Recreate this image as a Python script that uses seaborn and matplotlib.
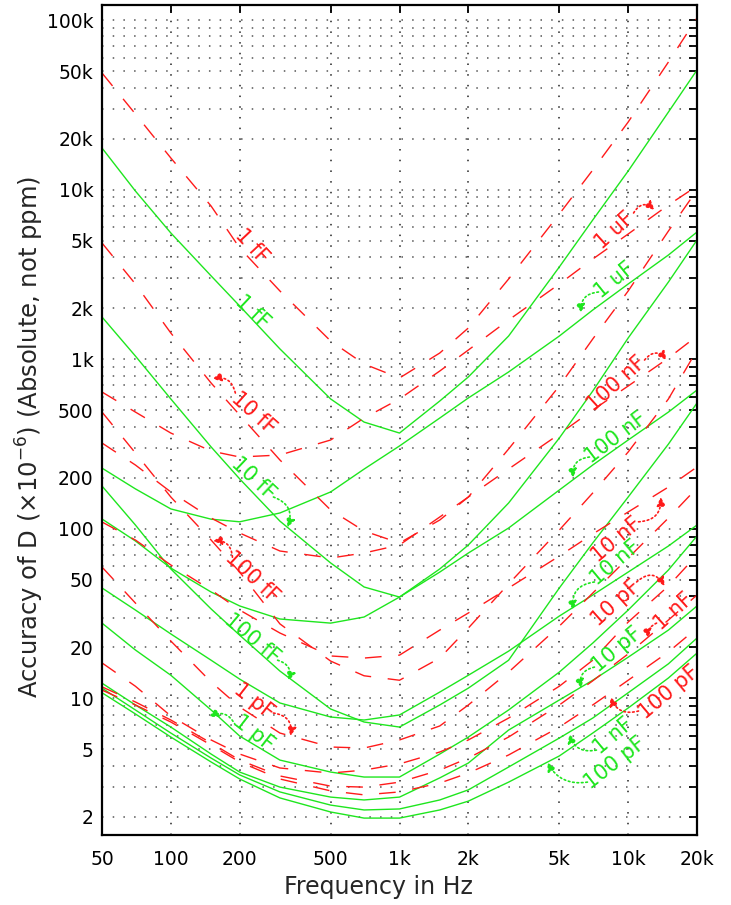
import matplotlib
matplotlib.use("Agg")
import matplotlib.pyplot as plt
import seaborn as sns
import pandas as pd
from matplotlib.ticker import FixedLocator, FixedFormatter, NullFormatter, NullLocator

# ---------------- data ----------------
freq_hz = [50, 70, 100, 150, 200, 300, 500, 700, 1000, 1500, 2000, 3000,
           5000, 7000, 10000, 15000, 20000]

# green (solid) curves
g_1fF = [17590, 9810, 5550, 3100, 2060, 1150, 583, 426, 367, 567, 786, 1370, 3500, 6620, 12870, 28670, 50730]
g_10fF = [1774, 1044, 583, 304, 197, 111, 62.9, 45.4, 39.6, 58.0, 80.3, 142, 343, 649, 1334, 2853, 5045]
g_100fF = [178.8, 105.3, 58.0, 33.7, 23.6, 14.5, 8.66, 7.26, 6.78, 9.15, 11.5, 16.8, 44.8, 82.5, 154, 316, 552]
g_1pF = [27.8, 19.3, 13.7, 8.55, 6.00, 4.33, 3.68, 3.44, 3.44, 4.70, 5.92, 8.55, 14.3, 21.2, 33.2, 57.2, 90.7]
g_10pF = [12.3, 9.15, 6.78, 4.70, 3.68, 3.00, 2.62, 2.52, 2.62, 3.40, 4.16, 6.51, 9.79, 12.8, 17.5, 25.3, 35.1]
g_100pF = [10.8, 8.10, 5.92, 4.22, 3.35, 2.59, 2.14, 1.97, 1.97, 2.20, 2.48, 3.21, 4.58, 6.25, 8.78, 13.2, 18.5]
g_1nF = [11.5, 8.55, 6.25, 4.45, 3.54, 2.81, 2.35, 2.20, 2.23, 2.52, 2.89, 3.94, 5.84, 7.66, 10.8, 16.0, 22.7]
g_10nF = [44.8, 33.2, 24.0, 16.8, 13.0, 9.40, 7.77, 7.46, 7.99, 10.9, 13.7, 19.0, 30.6, 40.7, 55.6, 79.2, 105.3]
g_100nF = [114.3, 84.8, 58.7, 42.4, 35.1, 29.4, 27.8, 30.2, 39.6, 55.6, 72.0, 101.1, 169.4, 237.8, 334, 488, 658]
g_1uF = [228, 172, 131, 114, 110, 124, 165, 225, 308, 450, 591, 841, 1370, 1950, 2776, 4116, 5623]

# red (dashed) curves
r_1fF = [48690, 27910, 15360, 8000, 4530, 2525, 1280, 937, 775, 1088, 1528, 2971, 7180, 13050, 25030, 56540, 102760]
r_10fF = [4844, 2776, 1427, 724, 469, 254.5, 129.1, 97.1, 82.5, 112.7, 154, 295.5, 695, 1316, 2525, 5700, 9947]
r_100fF = [488, 280, 154, 85.9, 55.6, 27.5, 16.6, 13.6, 12.8, 17.3, 26.0, 47.3, 98.4, 162.7, 283.8, 583, 1133]
r_1pF = [59.5, 36.5, 21.8, 12.5, 8.90, 6.25, 5.17, 5.10, 5.69, 6.88, 9.15, 14.3, 26.7, 41.8, 67.3, 115.8, 174.1]
r_10pF = [16.2, 11.8, 7.88, 5.69, 4.70, 3.89, 3.63, 3.78, 4.11, 4.83, 5.69, 7.66, 11.8, 16.8, 28.2, 46.0, 70.1]
r_100pF = [11.2, 9.15, 7.26, 5.31, 4.22, 3.35, 2.85, 2.70, 2.81, 3.17, 3.63, 4.64, 6.78, 9.15, 12.8, 18.8, 26.0]
r_1nF = [11.7, 9.53, 7.46, 5.46, 4.33, 3.49, 3.04, 3.00, 3.21, 3.78, 4.45, 5.92, 9.15, 12.7, 18.3, 29.0, 40.7]
r_10nF = [109.7, 85.9, 61.2, 43.6, 33.2, 24.3, 17.8, 17.3, 18.0, 25.3, 31.9, 44.8, 69.1, 93.2, 125.7, 176.4, 231.5]
r_100nF = [320.6, 237.8, 164.9, 115.8, 94.5, 74.0, 67.3, 72.0, 80.3, 117.4, 154, 225.3, 362.2, 501.8, 695, 1016, 1370]
r_1uF = [640.6, 488, 367, 287.6, 265.1, 272.4, 334, 450, 583, 852, 1133, 1703, 2776, 3897, 5473, 8114, 10500]

x_tick_vals = [50, 100, 200, 500, 1000, 2000, 5000, 10000, 20000]
x_tick_labels = ["50", "100", "200", "500", "1k", "2k", "5k", "10k", "20k"]
y_tick_vals = [2, 5, 10, 20, 50, 100, 200, 500, 1000, 2000, 5000, 10000, 20000, 50000, 100000]
y_tick_labels = ["2", "5", "10", "20", "50", "100", "200", "500", "1k", "2k", "5k",
                 "10k", "20k", "50k", "100k"]

green_curves = {"g 1 fF": g_1fF, "g 10 fF": g_10fF, "g 100 fF": g_100fF, "g 1 pF": g_1pF,
                "g 10 pF": g_10pF, "g 100 pF": g_100pF, "g 1 nF": g_1nF, "g 10 nF": g_10nF,
                "g 100 nF": g_100nF, "g 1 uF": g_1uF}
red_curves = {"r 1 fF": r_1fF, "r 10 fF": r_10fF, "r 100 fF": r_100fF, "r 1 pF": r_1pF,
              "r 10 pF": r_10pF, "r 100 pF": r_100pF, "r 1 nF": r_1nF, "r 10 nF": r_10nF,
              "r 100 nF": r_100nF, "r 1 uF": r_1uF}

GREEN = "#1ee61e"
RED = "#ff1a1a"

rows = []
for name, vals in green_curves.items():
    for f, v in zip(freq_hz, vals):
        rows.append({"freq": f, "acc": v, "curve": name, "kind": "solid"})
for name, vals in red_curves.items():
    for f, v in zip(freq_hz, vals):
        rows.append({"freq": f, "acc": v, "curve": name, "kind": "dashed"})
df = pd.DataFrame(rows)
palette = {n: GREEN for n in green_curves}
palette.update({n: RED for n in red_curves})

# ---------------- figure ----------------
sns.set_style("white")
plt.rcParams["font.family"] = ["DejaVu Sans"]

fig = plt.figure(figsize=(7.31, 9.05), dpi=100)
ax = fig.add_axes([102 / 731, 70 / 905, 595 / 731, 830 / 905])
ax.set_xscale("log")
ax.set_yscale("log")

sns.lineplot(data=df, x="freq", y="acc", hue="curve", style="kind", palette=palette,
             dashes={"solid": "", "dashed": (12, 12)}, estimator=None, legend=False,
             linewidth=1.0, ax=ax)

ax.set_xlim(50, 20000)
ax.set_ylim(1.566, 122600)

ax.xaxis.set_major_locator(FixedLocator(x_tick_vals))
ax.xaxis.set_major_formatter(FixedFormatter(x_tick_labels))
ax.xaxis.set_minor_locator(NullLocator())
y_minor = [m * 10 ** k for k in range(0, 6) for m in range(1, 10)
           if 1.566 < m * 10 ** k < 122600 and m * 10 ** k not in y_tick_vals]
ax.yaxis.set_major_locator(FixedLocator(y_tick_vals))
ax.yaxis.set_major_formatter(FixedFormatter(y_tick_labels))
ax.yaxis.set_minor_locator(FixedLocator(y_minor))
ax.yaxis.set_minor_formatter(NullFormatter())

ax.set_axisbelow(True)
ax.grid(True, which="both", axis="y", color="#555555", lw=1.1, ls=(0, (1, 6)))
ax.grid(True, which="major", axis="x", color="#222222", lw=1.1, ls=(0, (1, 6)))

ax.tick_params(which="both", direction="in", top=True, right=True, length=6, width=1.3,
               labelsize=13.5, colors="black")
ax.tick_params(axis="y", pad=6)
ax.tick_params(axis="x", pad=11)
for s in ax.spines.values():
    s.set_linewidth(1.6)
    s.set_color("black")
ax.set_xlabel("")
ax.set_ylabel("")

fig.text(378 / 731, (905 - 887) / 905, "Frequency in Hz", ha="center", va="center", fontsize=17)
fig.text(30 / 731, (905 - 437) / 905, r"Accuracy of D ($\times$10$^{-6}$) (Absolute, not ppm)",
         ha="center", va="center", rotation=90, fontsize=17.5)

# ---------------- curve labels ----------------
LFS = 15
labels = [
    ("1 fF", GREEN, 227, 1897, -43), ("1 fF", RED, 227, 4650, -47),
    ("10 fF", RED, 230, 482, -42), ("10 fF", GREEN, 230, 199, -43),
    ("100 fF", RED, 227, 52, -43), ("100 fF", GREEN, 227, 22.7, -40),
    ("1 pF", RED, 230, 9.66, -38), ("1 pF", GREEN, 230, 6.25, -38),
    ("1 uF", RED, 8716, 5780, 42), ("1 uF", GREEN, 8716, 2930, 39),
    ("100 nF", RED, 8891, 714, 42), ("100 nF", GREEN, 8803, 343, 37),
    ("10 nF", RED, 8891, 85.9, 40), ("10 nF", GREEN, 8803, 62.9, 40),
    ("10 pF", RED, 8803, 36.5, 42), ("10 pF", GREEN, 8891, 19.3, 40),
    ("1 nF", RED, 15810, 32.7, 42), ("1 nF", GREEN, 8627, 6.0, 40),
    ("100 pF", RED, 15040, 10.9, 40), ("100 pF", GREEN, 8803, 4.16, 38),
]
for txt, col, fx, fy, rot in labels:
    ax.text(fx, fy, txt, color=col, fontsize=LFS, rotation=rot, ha="center", va="center",
            rotation_mode="anchor")

arrows = [
    (RED, (191.5, 632), (152, 764), 0.5), (GREEN, (281, 154), (324, 102), -0.5),
    (RED, (186, 68), (153, 84.7), 0.5), (GREEN, (293, 16.8), (327, 12.7), -0.5),
    (RED, (281, 8.2), (334, 6.0), -0.5), (GREEN, (191.5, 6.97), (147, 7.77), 0.5),
    (RED, (10560, 7280), (13050, 7590), -0.6), (GREEN, (7415, 2490), (6245, 1873), 0.5),
    (RED, (11793, 989), (14730, 989), -0.6), (GREEN, (6770, 265), (5760, 200), 0.5),
    (RED, (11100, 110), (13870, 154), 0.5), (GREEN, (7120, 48.6), (5760, 33.2), 0.5),
    (RED, (10890, 48.6), (14440, 46.0), -0.6), (GREEN, (7120, 15.3), (6245, 11.5), 0.5),
    (RED, (13310, 27.8), (12290, 22.7), 0.4), (GREEN, (7265, 4.96), (5530, 6.17), -0.45),
    (RED, (11100, 8.43), (8370, 10.2), -0.45), (GREEN, (6635, 3.21), (4430, 4.2), -0.35),
]
for col, start, tip, rad in arrows:
    ax.annotate("", xy=tip, xytext=start,
                arrowprops=dict(arrowstyle="-|>", color=col, lw=1.2, ls=":",
                                connectionstyle=f"arc3,rad={rad}", mutation_scale=13,
                                shrinkA=0, shrinkB=0))

fig.savefig("out.png", dpi=100)
